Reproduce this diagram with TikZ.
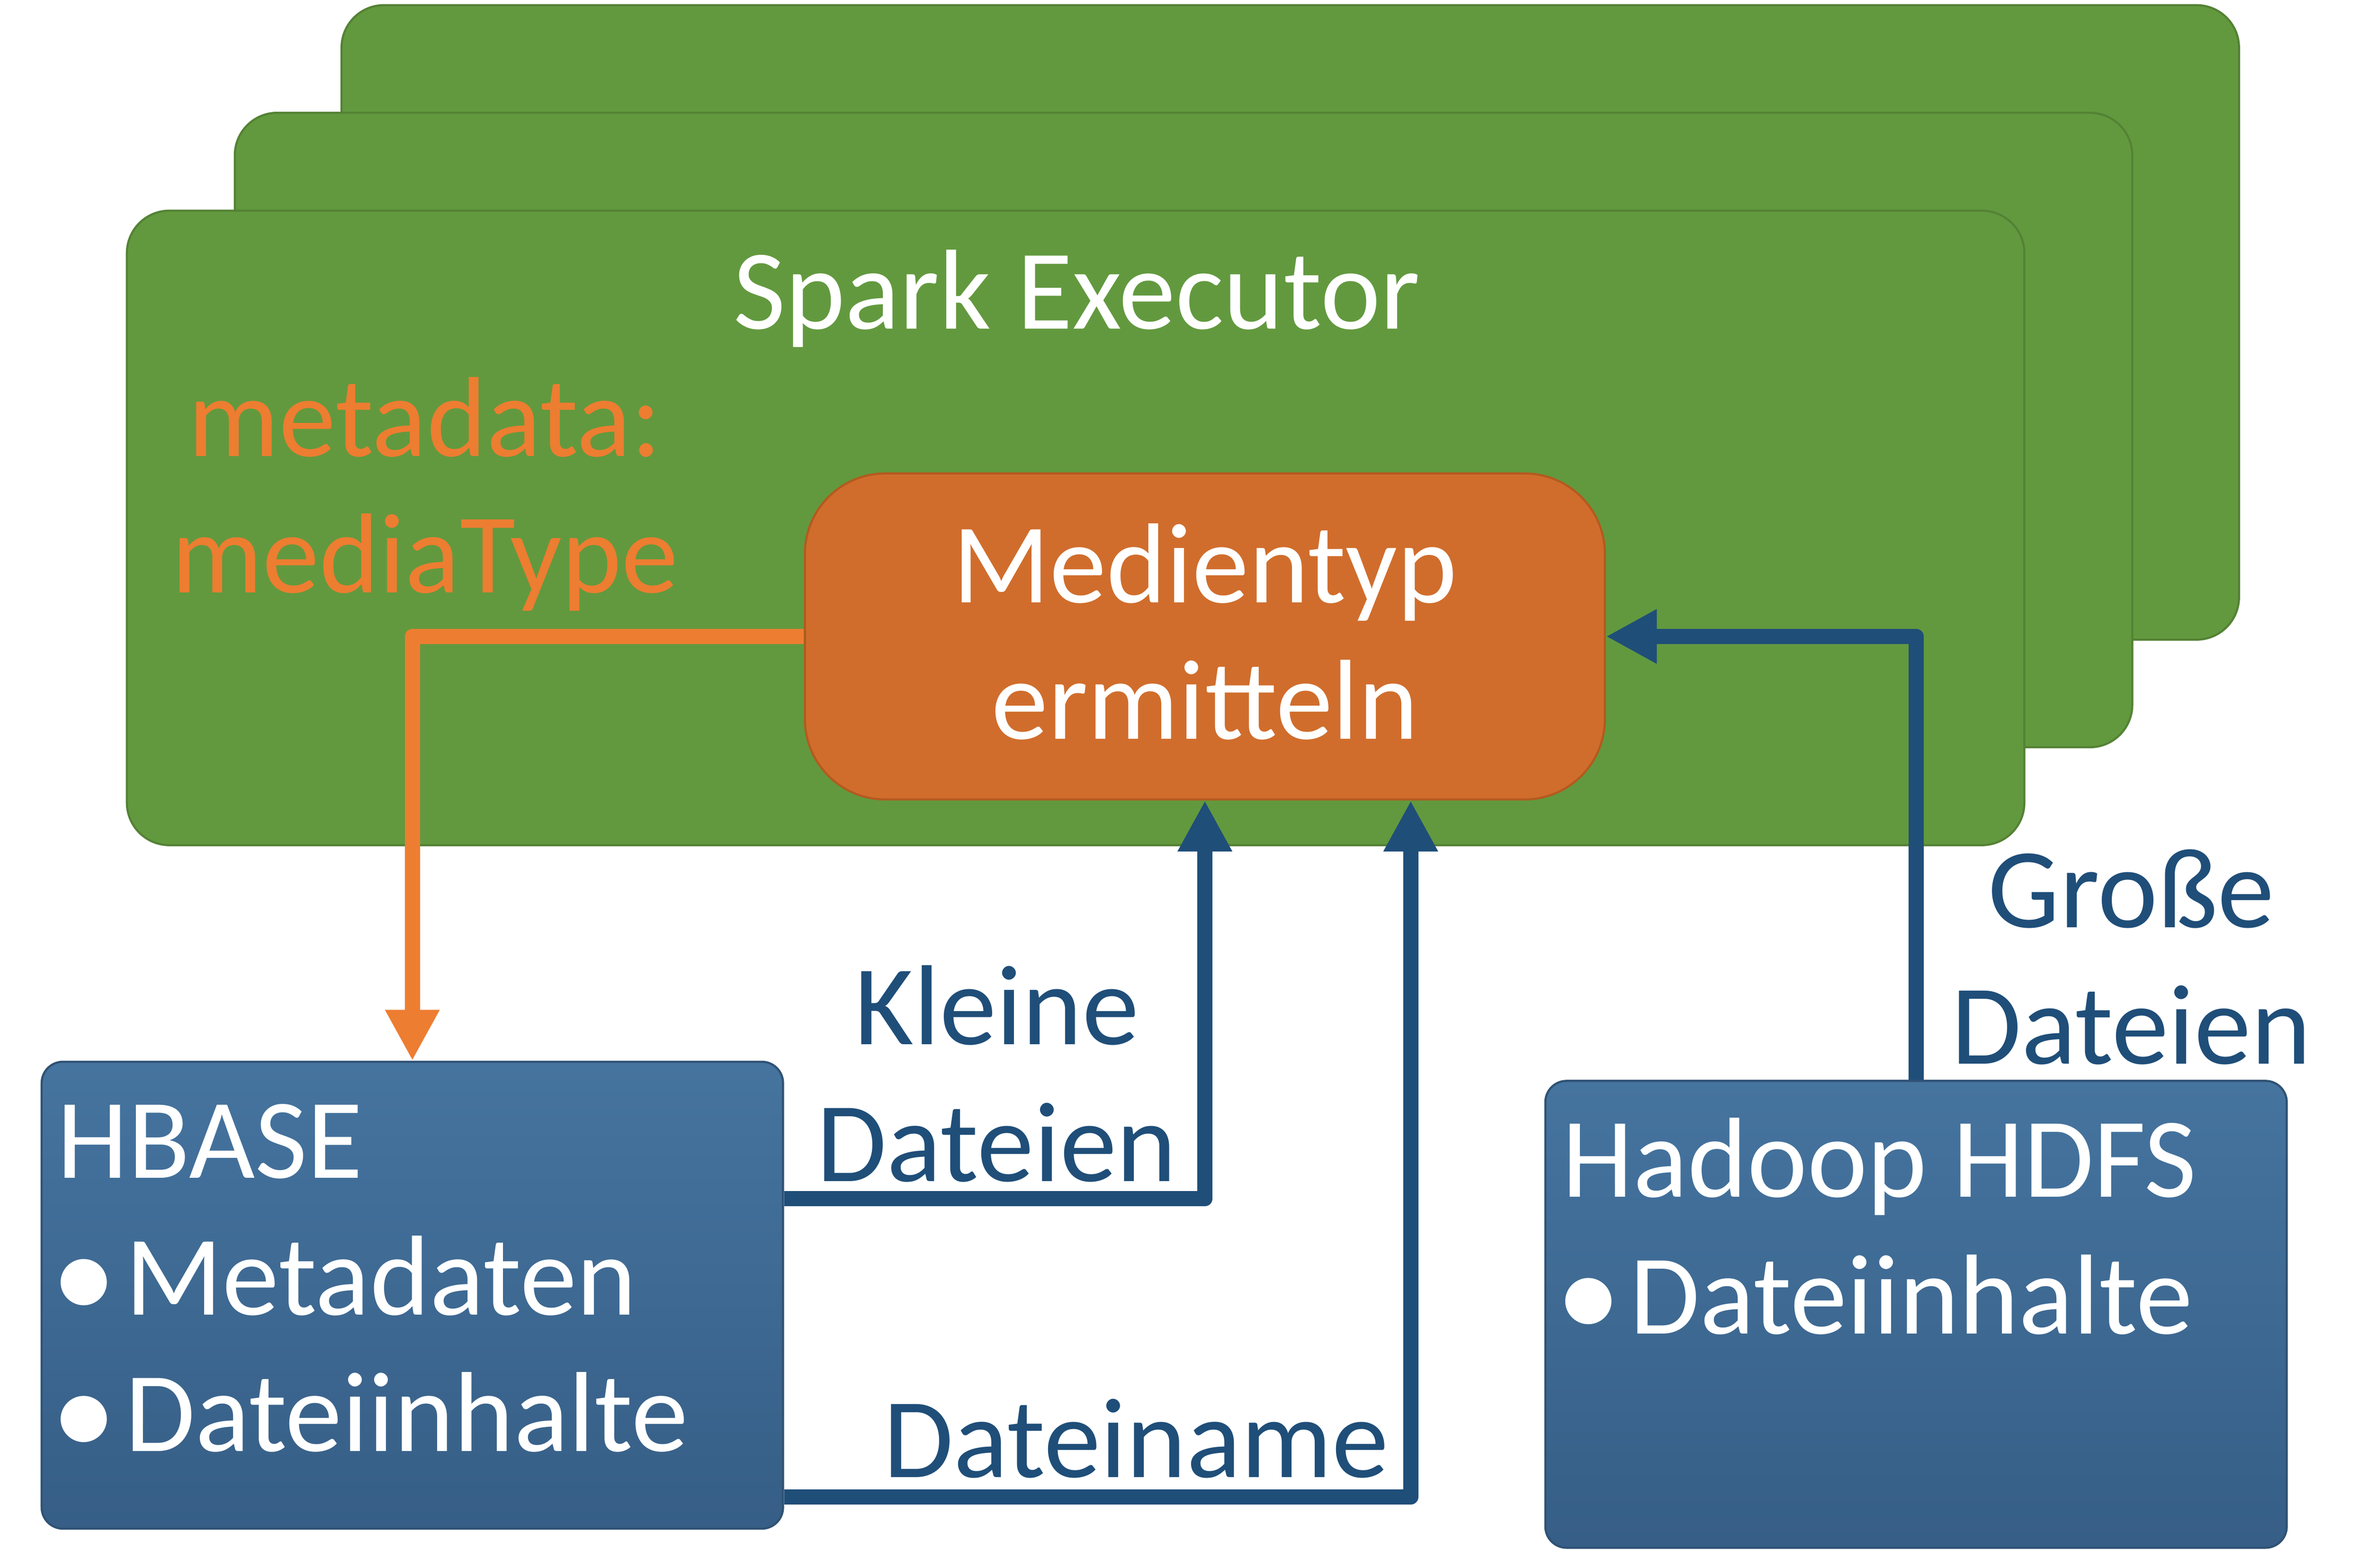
\documentclass[tikz,border=0pt]{standalone}
\usepackage{fontspec}
\setmainfont{Carlito}
\usetikzlibrary{arrows.meta}
\definecolor{execfill}{HTML}{62993E}
\definecolor{execline}{HTML}{548235}
\definecolor{medienfill}{HTML}{D06D2C}
\definecolor{medienline}{HTML}{B35A1F}
\definecolor{metaorange}{HTML}{ED7D31}
\definecolor{flowblue}{HTML}{1F4E79}
\definecolor{storetop}{HTML}{45749F}
\definecolor{storebottom}{HTML}{365E86}
\definecolor{storeline}{HTML}{2F5274}
\newcommand{\bul}{\makebox[44.7pt][l]{\hspace*{-4pt}\raisebox{-3pt}{\scalebox{1.15}{•}}}}
\newcommand{\tl}{\rule{0pt}{75pt}}
\newcommand{\dl}{\rule[-29.6pt]{0pt}{0pt}}
\tikzset{
	executor/.style={draw=execline, fill=execfill, line width=1.4pt, rounded corners=28pt, minimum width=1250pt, minimum height=418pt},
	store/.style={draw=storeline, top color=storetop, bottom color=storebottom, line width=1.4pt, rounded corners=14pt, minimum width=488.4pt, minimum height=307.6pt},
	txt/.style={font=\fontsize{75}{90}\selectfont, inner sep=0pt, align=center},
	flow/.style={line width=10pt, line join=round, -{Triangle[length=33.5pt, width=33.5pt]}}
}

\begin{document}
\begin{tikzpicture}[x=1pt, y=-1pt]
				\useasboundingbox (0, 0) rectangle (1560, 1033);
				\node[executor] (E3)at(850, 212.4) {};
				\node[executor] (E2)at(779.7, 283.3) {};
				\node[executor] (E1)at(708.6, 347.8) {};
				\node[txt, white, anchor=north] (spark)at(709.3, 141.5) {\tl Spark Executor};
				\node[txt, metaorange, anchor=north] (meta)at(280, 225.4) {\tl metadata:\\mediaType};
				\node[txt, draw=medienline, fill=medienfill, line width=1.4pt, rounded corners=53pt, minimum width=527pt, minimum height=214.8pt, text=white] (M)at(793.75, 419.3) {\tl Medientyp\\\dl ermitteln};
				\node[store] (HB)at(271.65, 853.3) {};
				\node[store] (HD)at(1262.25, 865.9) {};
				\node[txt, white, align=left, anchor=north west] (hbtext)at([xshift=10.8pt, yshift=-2.2pt]HB.north west) {\tl HBASE\\\bul Metadaten\\\bul Dateiinhalte};
				\node[txt, white, align=left, anchor=north west] (hdtext)at([xshift=11.5pt, yshift=-2pt]HD.north west) {\tl Hadoop HDFS\\\bul Dateiinhalte};
				\draw[flow, metaorange] (M.west) -| (HB.north);
				\draw[flow, flowblue] ([yshift=-91pt]HB.north east) -| (M.south);
				\draw[flow, flowblue] ([yshift=21.6pt]HB.south east) -| ([xshift=135.6pt]M.south);
				\draw[flow, flowblue] (HD.north) |- (M.east);
				\node[txt, flowblue, anchor=north] (kleine)at(656.6, 613) {\tl Kleine\\Dateien};
				\node[txt, flowblue, anchor=north east] (dateiname)at(915, 898) {\tl Dateiname};
				\node[txt, flowblue, anchor=north] (grosse)at(1404, 535.8) {\tl Große\\Dateien};
			\end{tikzpicture}
\end{document}
